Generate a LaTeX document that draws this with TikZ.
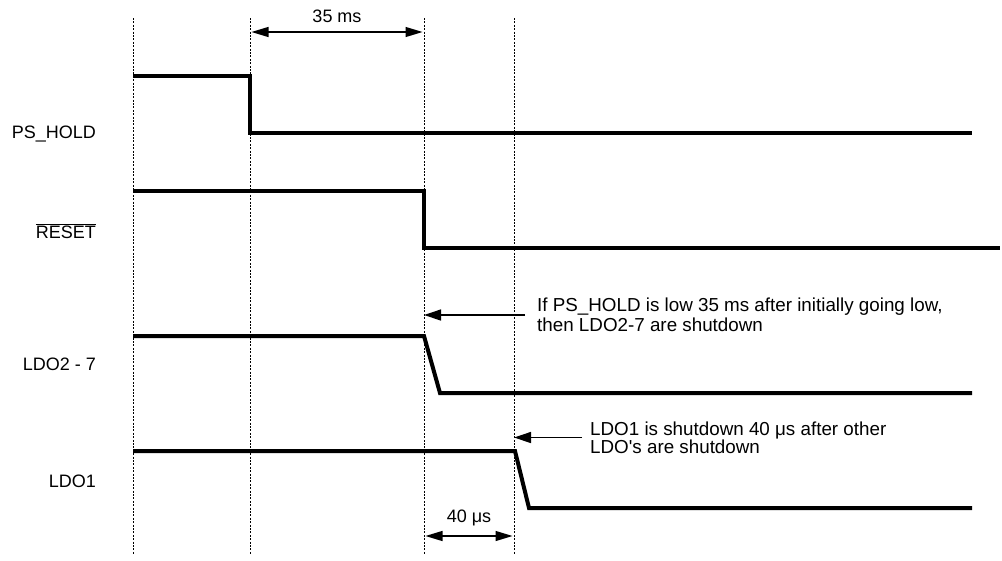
\documentclass[tikz,border=0pt]{standalone}
\usepackage{fontspec}
\setmainfont{Liberation Sans}
\usetikzlibrary{arrows.meta}

\tikzset{
  signal/.style={line width=4pt, line join=miter},
  guide/.style={line width=0.9pt, dash pattern=on 2pt off 1.4pt},
  dimarrow/.style={line width=1.3pt, {Triangle[length=17pt,width=10pt]}-{Triangle[length=17pt,width=10pt]}, shorten <=1.5pt, shorten >=1.5pt},
  notearrow/.style={line width=1.3pt, -{Triangle[length=17pt,width=11pt]}},
  note/.style={anchor=west, align=left, font=\fontsize{18.8}{20}\selectfont},
}

\begin{document}
\begin{tikzpicture}[x=1pt,y=-1pt, every node/.style={font=\fontsize{18}{20}\selectfont, inner sep=0pt}]
  \useasboundingbox (0,0) rectangle (1002,560);
  % time markers
  \foreach \x/\name in {133/t1,250/t2,424/t3,514/t4} {
    \draw[guide] (\x,18) -- (\x,554);
    \coordinate (\name) at (\x,32);
    \coordinate (\name b) at (\x,536);
  }
  % signal names
  \node[anchor=base east] (lps) at (96,138) {PS\_HOLD};
  \node[anchor=base east] (lreset) at (96,238) {$\overline{\mbox{RESET}}$};
  \node[anchor=base east] (lldo) at (96,370) {LDO2 - 7};
  \node[anchor=base east] (lldoone) at (96,487) {LDO1};
  % waveforms
  \draw[signal] (133,76) -- (250,76) -- (250,133) -- (972,133);
  \draw[signal] (133,190.7) -- (424,190.7) -- (424,248) -- (1000,248);
  \draw[signal] (133,336) -- (424,336) -- (440,393) -- (972,393);
  \draw[signal] (133,451) -- (515,451) -- (529,508) -- (972,508);
  % delays
  \draw[dimarrow] (t2) -- (t3) node[midway, above=8.5pt] (d35) {35 ms};
  \draw[dimarrow] (t3b) -- (t4b) node[midway, above=9pt] (d40) {40 μs};
  % notes
  \node[note, inner xsep=12pt] (note1) at (525,315)
    {If PS\_HOLD is low 35 ms after initially going low,\\then LDO2-7 are shutdown};
  \node[note, inner xsep=8pt, font=\fontsize{18.8}{17.7}\selectfont] (note2) at (582,437.5)
    {LDO1 is shutdown 40 μs after other\\LDO\textquotesingle s are shutdown};
  \draw[notearrow] (note1.west) -- (note1.west -| t3);
  \draw[notearrow] (note2.west) -- (note2.west -| t4);
\end{tikzpicture}
\end{document}
